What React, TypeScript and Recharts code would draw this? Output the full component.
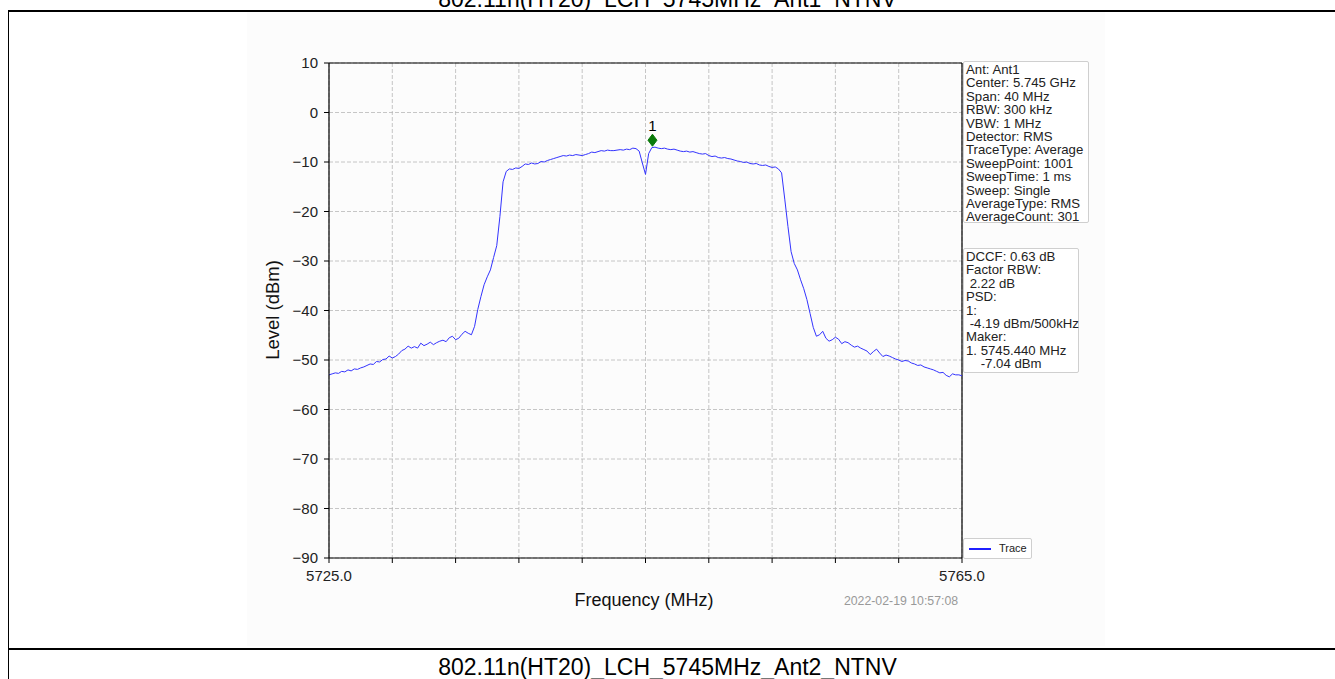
import React from 'react';
import {
  LineChart,
  Line,
  XAxis,
  YAxis,
  CartesianGrid,
  ReferenceLine,
  ReferenceDot,
} from 'recharts';

// sweep grid of the analyzer: 5725 .. 5765 MHz, 0.2 MHz per point
const SWEEP_START = 5725;
const SWEEP_STEP = 0.2;

// trace level (dBm)
const LEVELS = [
  -53.0, -52.8, -52.6, -52.7, -52.3, -52.4, -52.0, -52.2, -51.8, -51.9,
  -51.6, -51.4, -51.1, -50.8, -50.9, -50.3, -50.4, -49.9, -49.8, -49.2,
  -49.6, -49.3, -48.8, -48.1, -47.8, -47.2, -47.6, -47.3, -47.6, -46.6,
  -47.1, -46.8, -46.4, -46.9, -46.5, -46.2, -46.0, -46.3, -45.5, -45.2,
  -45.9, -45.6, -44.8, -44.2, -44.6, -44.9, -43.2, -39.8, -37.2, -34.8,
  -33.2, -31.8, -29.3, -26.9, -21.0, -14.0, -11.9, -11.4, -11.5, -11.2,
  -11.3, -10.9, -10.4, -10.5, -10.2, -10.4, -10.3, -9.9, -10.0, -9.7,
  -9.5, -9.3, -9.1, -8.9, -8.7, -8.8, -8.6, -8.7, -8.5, -8.6,
  -8.7, -8.5, -8.3, -8.0, -8.1, -7.9, -7.7, -7.8, -7.6, -7.7,
  -7.7, -7.6, -7.5, -7.6, -7.4, -7.5, -7.2, -7.3, -7.8, -10.2,
  -12.5, -8.3, -7.1, -7.0, -7.2, -7.3, -7.2, -7.4, -7.5, -7.4,
  -7.6, -7.8, -7.9, -7.8, -8.0, -7.9, -8.1, -8.3, -8.4, -8.3,
  -8.7, -8.9, -8.8, -9.1, -9.2, -9.1, -9.3, -9.4, -9.6, -9.8,
  -9.9, -10.1, -10.0, -10.3, -10.4, -10.3, -10.6, -10.7, -10.6, -10.9,
  -11.1, -11.0, -11.4, -12.2, -17.5, -23.0, -28.1, -30.5, -31.8, -33.8,
  -35.6, -37.8, -40.6, -43.4, -45.2, -44.9, -44.2, -45.6, -46.2, -45.9,
  -45.4, -45.8, -46.7, -46.3, -46.5, -47.0, -47.4, -47.2, -47.6, -47.9,
  -48.2, -48.9, -48.3, -47.8, -48.6, -49.3, -49.0, -49.2, -49.5, -49.8,
  -50.0, -50.3, -50.1, -50.2, -50.6, -50.8, -51.1, -51.0, -51.4, -51.6,
  -51.8, -52.0, -52.3, -52.6, -52.5, -53.1, -53.4, -52.8, -53.0, -53.0,
  -53.2,
];

const X_TICKS = [5725, 5729, 5733, 5737, 5741, 5745, 5749, 5753, 5757, 5761, 5765];
const Y_TICKS = [-90, -80, -70, -60, -50, -40, -30, -20, -10, 0, 10];

// marker 1 (drawn position)
const MARKER_FREQ = 5745.44;
const MARKER_LEVEL = -5.6;

const INFO_LINES = [
  'Ant: Ant1',
  'Center: 5.745 GHz',
  'Span: 40 MHz',
  'RBW: 300 kHz',
  'VBW: 1 MHz',
  'Detector: RMS',
  'TraceType: Average',
  'SweepPoint: 1001',
  'SweepTime: 1 ms',
  'Sweep: Single',
  'AverageType: RMS',
  'AverageCount: 301',
];

const RESULT_LINES = [
  'DCCF: 0.63 dB',
  'Factor RBW:',
  ' 2.22 dB',
  'PSD:',
  '1:',
  ' -4.19 dBm/500kHz',
  'Maker:',
  '1. 5745.440 MHz',
  '    -7.04 dBm',
];

const FONT = '"Liberation Sans", Arial, sans-serif';

const data = LEVELS.map((level, i) => ({
  freq: +(SWEEP_START + i * SWEEP_STEP).toFixed(1),
  level,
}));

const fmtY = (v: number) => (v < 0 ? `\u2212${Math.abs(v)}` : `${v}`);
const fmtX = (v: number) => (v === 5725 || v === 5765 ? v.toFixed(1) : '');

const Diamond = (props: any) => {
  const { cx, cy } = props;
  return (
    <g>
      <path
        d={`M${cx},${cy - 6} L${cx + 4.5},${cy} L${cx},${cy + 6} L${cx - 4.5},${cy} Z`}
        fill="#0a7a0a"
        stroke="#0a7a0a"
      />
      <text x={cx} y={cy - 9} textAnchor="middle" fontSize={15} fontFamily={FONT} fill="#000">
        1
      </text>
    </g>
  );
};

const boxStyle: React.CSSProperties = {
  position: 'absolute',
  background: '#fff',
  border: '1px solid #cfcfcf',
  borderRadius: 2,
  fontFamily: FONT,
  fontSize: 13.2,
  lineHeight: '13.4px',
  color: '#222',
  whiteSpace: 'pre',
  padding: '0 2px',
};

const titleStyle: React.CSSProperties = {
  position: 'absolute',
  left: 0,
  width: 1335,
  textAlign: 'center',
  fontSize: 23,
  lineHeight: '23px',
  color: '#000',
};

export default function App() {
  return (
    <div
      style={{
        position: 'absolute',
        left: 0,
        top: 0,
        width: 1335,
        height: 679,
        overflow: 'hidden',
        background: '#fff',
        fontFamily: FONT,
      }}
    >
      <div style={{ position: 'absolute', left: 247, top: 12, width: 858, height: 634, background: '#fcfcfc' }} />
      <div style={{ position: 'absolute', left: 8, top: 10, width: 1327, height: 2, background: '#000' }} />
      <div style={{ position: 'absolute', left: 8, top: 648, width: 1327, height: 2, background: '#000' }} />
      <div style={{ position: 'absolute', left: 8, top: 10, width: 1, height: 669, background: '#000' }} />
      <div style={{ ...titleStyle, top: -12 }}>802.11n(HT20)_LCH_5745MHz_Ant1_NTNV</div>
      <div style={{ ...titleStyle, top: 656 }}>802.11n(HT20)_LCH_5745MHz_Ant2_NTNV</div>

      <div style={{ position: 'absolute', left: 0, top: 0 }}>
        <LineChart
          width={1335}
          height={679}
          data={data}
          margin={{ top: 63, right: 373, bottom: 91, left: 269 }}
        >
          <CartesianGrid
            stroke="#b8b8b8"
            strokeDasharray="4 2"
            strokeWidth={0.8}
            horizontalValues={Y_TICKS}
            verticalValues={X_TICKS}
          />
          <XAxis
            dataKey="freq"
            type="number"
            domain={[5725, 5765]}
            ticks={X_TICKS}
            tickFormatter={fmtX}
            allowDataOverflow
            height={30}
            axisLine={{ stroke: '#000', strokeWidth: 1.2 }}
            tickLine={{ stroke: '#000' }}
            tickSize={5}
            tickMargin={7}
            tick={{ fontSize: 15, fill: '#222', fontFamily: FONT }}
            interval={0}
          />
          <YAxis
            type="number"
            domain={[-90, 10]}
            ticks={Y_TICKS}
            tickFormatter={fmtY}
            allowDataOverflow
            width={60}
            axisLine={{ stroke: '#000', strokeWidth: 1.2 }}
            tickLine={{ stroke: '#000' }}
            tickSize={5}
            tickMargin={6}
            tick={{ fontSize: 15, fill: '#222', fontFamily: FONT }}
            interval={0}
          />
          <ReferenceLine y={10} stroke="#000" strokeWidth={1.2} />
          <ReferenceLine x={5765} stroke="#000" strokeWidth={1.2} />
          <Line
            type="linear"
            dataKey="level"
            stroke="#3333ff"
            strokeWidth={1}
            dot={false}
            isAnimationActive={false}
          />
          <ReferenceDot x={MARKER_FREQ} y={MARKER_LEVEL} r={6} shape={Diamond} />
        </LineChart>
      </div>

      <div
        style={{
          position: 'absolute',
          left: 273,
          top: 310,
          fontSize: 18.5,
          transform: 'translate(-50%, -50%) rotate(-90deg)',
          whiteSpace: 'nowrap',
          color: '#111',
        }}
      >
        Level (dBm)
      </div>
      <div
        style={{
          position: 'absolute',
          left: 644,
          top: 600,
          fontSize: 18,
          transform: 'translate(-50%, -50%)',
          whiteSpace: 'nowrap',
          color: '#111',
        }}
      >
        Frequency (MHz)
      </div>
      <div
        style={{
          position: 'absolute',
          left: 901,
          top: 601,
          fontSize: 12.3,
          transform: 'translate(-50%, -50%)',
          whiteSpace: 'nowrap',
          color: '#999',
        }}
      >
        2022-02-19 10:57:08
      </div>

      <div style={{ ...boxStyle, left: 963, top: 61, width: 120, height: 159, paddingTop: 1 }}>
        {INFO_LINES.join('\n')}
      </div>
      <div style={{ ...boxStyle, left: 963, top: 248, width: 110, height: 122, paddingTop: 1 }}>
        {RESULT_LINES.join('\n')}
      </div>
      <div
        style={{
          ...boxStyle,
          left: 963,
          top: 538,
          width: 63,
          height: 19,
          fontSize: 11,
          lineHeight: '19px',
          padding: '0 2px',
        }}
      >
        <span
          style={{
            display: 'inline-block',
            width: 22,
            height: 2,
            background: '#2020ff',
            verticalAlign: 'middle',
            marginRight: 8,
            marginLeft: 3,
          }}
        />
        Trace
      </div>
    </div>
  );
}
